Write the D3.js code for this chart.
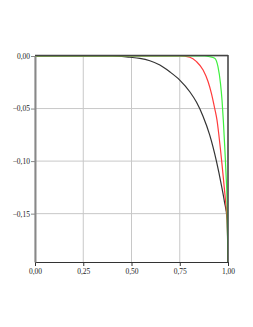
<!DOCTYPE html>
<html>
<head>
<meta charset="utf-8">
<script src="https://cdn.jsdelivr.net/npm/d3@7"></script>
<style>
  body { margin: 0; background: #ffffff; }
</style>
</head>
<body>
<div id="chart"></div>
<script>
// Chart data
var xTicks = [0, 0.25, 0.5, 0.75, 1];
var yTicks = [0, -0.05, -0.10, -0.15];

var blackX = [0, 0.40, 0.491, 0.543, 0.595, 0.647, 0.698, 0.750, 0.802, 0.837, 0.870, 0.905, 0.940, 0.966, 0.982, 0.995, 1.0];
var blackY = [0, 0, -0.0012, -0.0022, -0.0045, -0.0086, -0.0150, -0.0229, -0.0340, -0.0440, -0.0570, -0.0750, -0.1000, -0.1230, -0.1390, -0.1550, -0.196];

var redX = [0, 0.75, 0.802, 0.837, 0.871, 0.897, 0.914, 0.931, 0.943, 0.952, 0.961, 0.970, 0.980, 0.990, 0.996, 1.0];
var redY = [0, 0, -0.0012, -0.0054, -0.0133, -0.0245, -0.0355, -0.0498, -0.0610, -0.0740, -0.0890, -0.1050, -0.1240, -0.1430, -0.1560, -0.196];

var greenX = [0, 0.88, 0.905, 0.931, 0.948, 0.961, 0.969, 0.976, 0.983, 0.990, 0.995, 1.0];
var greenY = [0, 0, -0.0007, -0.0022, -0.0102, -0.0260, -0.0420, -0.0620, -0.0860, -0.1130, -0.1360, -0.196];

var series = [
  { xs: blackX, ys: blackY, color: '#333333' },
  { xs: redX, ys: redY, color: '#ff3b3b' },
  { xs: greenX, ys: greenY, color: '#3ef03e' }
];

// Layout (plot box edges)
var width = 253, height = 327;
var pLeft = 35, pRight = 228, pTop = 56, pBottom = 262;

var x = d3.scaleLinear().domain([0, 1]).range([pLeft, pRight]);
var y = d3.scaleLinear().domain([-0.196, 0]).range([pBottom, pTop]);

var locale = d3.formatLocale({ decimal: ',', thousands: '.', grouping: [3], currency: ['', ''] });
var fmt = locale.format('.2f');

var svg = d3.select('#chart')
  .append('svg')
  .attr('width', width)
  .attr('height', height);

svg.append('clipPath')
  .attr('id', 'plotclip')
  .append('rect')
  .attr('x', pLeft)
  .attr('y', pTop)
  .attr('width', pRight - pLeft)
  .attr('height', pBottom - pTop);

// Grid
svg.append('g')
  .selectAll('line')
  .data(xTicks)
  .enter()
  .append('line')
  .attr('x1', function (d) { return x(d); })
  .attr('x2', function (d) { return x(d); })
  .attr('y1', pTop)
  .attr('y2', pBottom)
  .style('stroke', '#c8c8c8')
  .style('stroke-width', 1);

svg.append('g')
  .selectAll('line')
  .data(yTicks)
  .enter()
  .append('line')
  .attr('x1', pLeft)
  .attr('x2', pRight)
  .attr('y1', function (d) { return y(d); })
  .attr('y2', function (d) { return y(d); })
  .style('stroke', '#c8c8c8')
  .style('stroke-width', 1);

// Curves
var line = d3.line()
  .x(function (d) { return x(d[0]); })
  .y(function (d) { return y(d[1]); })
  .curve(d3.curveMonotoneX);

svg.append('g')
  .attr('clip-path', 'url(#plotclip)')
  .selectAll('path')
  .data(series)
  .enter()
  .append('path')
  .attr('d', function (s) { return line(d3.zip(s.xs, s.ys)); })
  .style('fill', 'none')
  .style('stroke', function (s) { return s.color; })
  .style('stroke-width', 1.2);

// Frame: top and right dark
svg.append('line')
  .attr('x1', pLeft).attr('x2', pRight).attr('y1', pTop - 0.5).attr('y2', pTop - 0.5)
  .style('stroke', '#444444').style('stroke-width', 1.5);
svg.append('line')
  .attr('x1', pRight).attr('x2', pRight).attr('y1', pTop - 1).attr('y2', pBottom)
  .style('stroke', '#444444').style('stroke-width', 1.5);

// Axes
var xAxis = d3.axisBottom(x)
  .tickValues(xTicks)
  .tickSizeInner(4)
  .tickSizeOuter(0)
  .tickFormat(fmt);

var yAxis = d3.axisLeft(y)
  .tickValues(yTicks)
  .tickSizeInner(4)
  .tickSizeOuter(0)
  .tickFormat(fmt);

var gx = svg.append('g')
  .attr('transform', 'translate(0,' + pBottom + ')')
  .call(xAxis);
gx.select('.domain').style('stroke', '#333333').style('stroke-width', 1.2);
gx.selectAll('.tick line').style('stroke', '#333333');

var gy = svg.append('g')
  .attr('transform', 'translate(' + pLeft + ',0)')
  .call(yAxis);
gy.select('.domain').style('stroke', '#888888').style('stroke-width', 2);
gy.selectAll('.tick line').style('stroke', '#888888');

svg.selectAll('.tick text')
  .style('font-family', '"Liberation Serif", "DejaVu Serif", serif')
  .style('font-size', '7.5px')
  .style('fill', '#222222');
gy.selectAll('.tick text').attr('x', -5);
gx.selectAll('.tick text').attr('y', 7);
</script>
</body>
</html>
